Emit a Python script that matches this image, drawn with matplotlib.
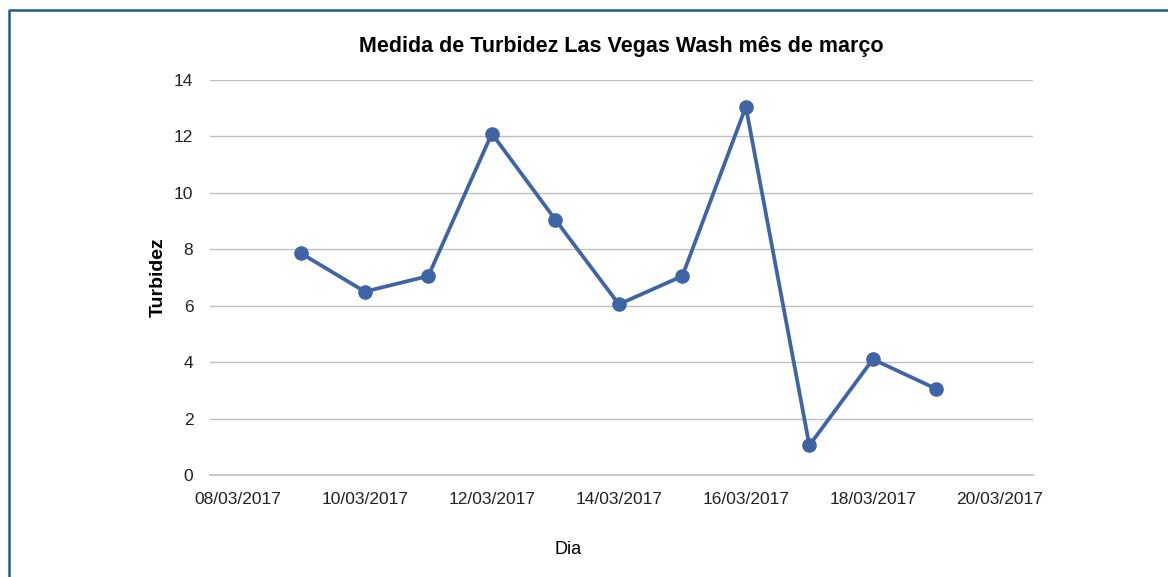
import matplotlib
matplotlib.use("Agg")
import matplotlib.pyplot as plt
import matplotlib.dates as mdates
from matplotlib.lines import Line2D
import pandas as pd

plt.rcParams['font.family'] = ['Liberation Sans', 'DejaVu Sans']

# Données (mesures de turbidité, mars 2017)
dias = ['09/03/2017', '10/03/2017', '11/03/2017', '12/03/2017', '13/03/2017', '14/03/2017',
        '15/03/2017', '16/03/2017', '17/03/2017', '18/03/2017', '19/03/2017']
turbidez = [7.85, 6.5, 7.05, 12.1, 9.05, 6.05, 7.05, 13.05, 1.05, 4.1, 3.05]
ticks_x = ['08/03/2017', '10/03/2017', '12/03/2017', '14/03/2017', '16/03/2017', '18/03/2017', '20/03/2017']
ticks_y = [0, 2, 4, 6, 8, 10, 12, 14]

x = pd.to_datetime(dias, format='%d/%m/%Y')
xt = pd.to_datetime(ticks_x, format='%d/%m/%Y')

fig = plt.figure(figsize=(11.68, 5.77), dpi=100)
ax = fig.add_axes([0.1798, 0.1768, 0.7046, 0.6846])

ax.plot(x, turbidez, '-o', color='#3F64A6', lw=2.7, ms=9.5, zorder=3)

ax.set_ylim(0, 14)
ax.set_yticks(ticks_y)
ax.set_xlim(xt[0] - pd.Timedelta(hours=10.5), xt[-1] + pd.Timedelta(hours=12.5))
ax.set_xticks(xt)
ax.xaxis.set_major_formatter(mdates.DateFormatter('%d/%m/%Y'))

ax.grid(axis='y', color='#BFBFBF', lw=1)
ax.set_axisbelow(True)
for s in ax.spines.values():
    s.set_visible(False)
ax.spines['bottom'].set_visible(True)
ax.spines['bottom'].set_color('#BFBFBF')
ax.spines['bottom'].set_linewidth(1.2)
ax.tick_params(length=0, labelsize=12.5, colors='#222222')
ax.tick_params(axis='x', pad=12)
ax.tick_params(axis='y', pad=12)

ax.set_title('Medida de Turbidez Las Vegas Wash mês de março', fontsize=15.5, fontweight='bold', pad=20)
ax.set_ylabel('Turbidez', fontsize=14, fontweight='bold', labelpad=5)
fig.text(568 / 1168, 1 - 549 / 577, 'Dia', fontsize=13, ha='center', va='center')

# cadre
yt = 1 - 10 / 577
xl = 9 / 1168
fig.add_artist(Line2D([xl, xl, 1], [0, yt, yt], transform=fig.transFigure, color='#1F5C8E', lw=1.8))

fig.savefig('out.png', dpi=100)
